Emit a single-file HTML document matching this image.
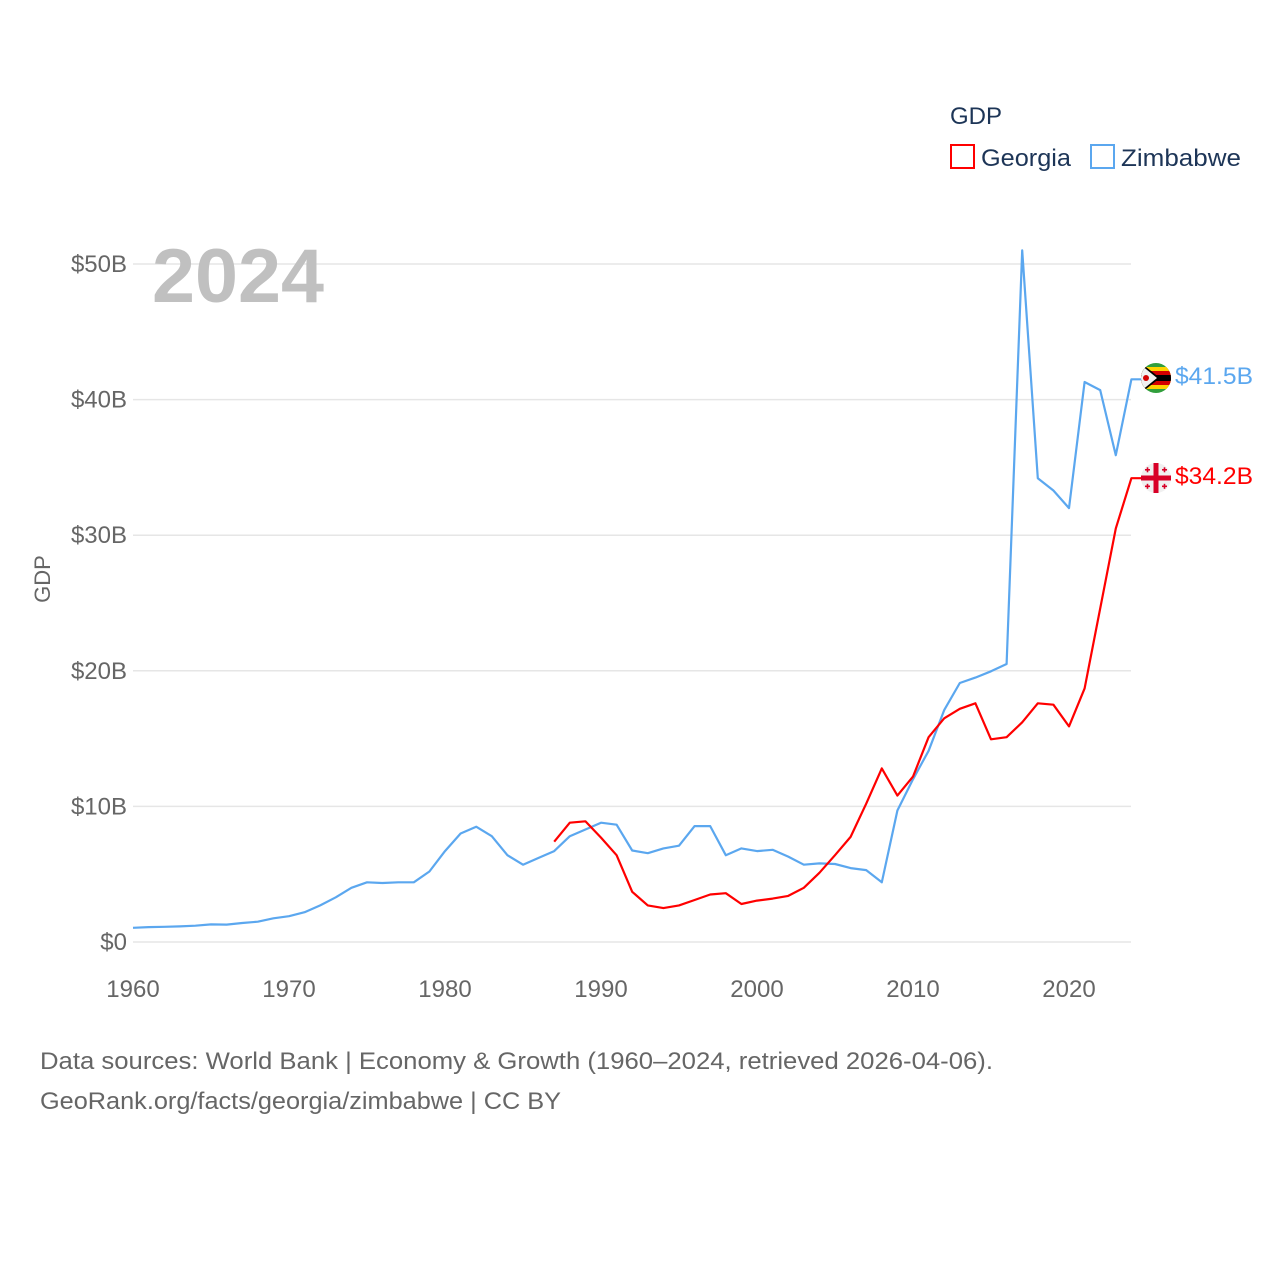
<!DOCTYPE html>
<html><head><meta charset="utf-8"><style>
html,body{margin:0;padding:0;background:#fff;}
svg{display:block;font-family:"Liberation Sans",sans-serif;}
</style></head><body>
<svg id="chart" width="1280" height="1280" viewBox="0 0 1280 1280">
<g id="grid"></g>
<g id="yticks"></g>
<g id="xticks"></g>
<text x="152" y="302" font-size="76" font-weight="bold" fill="#c0c0c0" textLength="172" lengthAdjust="spacingAndGlyphs">2024</text>
<text transform="translate(50,579) rotate(-90)" text-anchor="middle" font-size="22" fill="#666">GDP</text>
<g id="series"></g>
<g>
<text x="950" y="124" font-size="24" fill="#1d3557">GDP</text>
<rect x="951" y="145" width="23" height="23" fill="none" stroke="#ff0000" stroke-width="2"/>
<text x="981" y="166" font-size="24" fill="#1d3557" textLength="90" lengthAdjust="spacingAndGlyphs">Georgia</text>
<rect x="1091" y="145" width="23" height="23" fill="none" stroke="#5ba7ef" stroke-width="2"/>
<text x="1121" y="166" font-size="24" fill="#1d3557" textLength="120" lengthAdjust="spacingAndGlyphs">Zimbabwe</text>
</g>
<g>
<clipPath id="cz"><circle cx="1156" cy="378" r="15"/></clipPath>
<g clip-path="url(#cz)">
<rect x="1141" y="363" width="30" height="30" fill="#319e3c"/>
<rect x="1141" y="367" width="30" height="22" fill="#ffd200"/>
<rect x="1141" y="371" width="30" height="14" fill="#d40000"/>
<rect x="1141" y="375" width="30" height="6" fill="#000"/>
<polygon points="1141,363 1160,378 1141,393" fill="#000"/>
<polygon points="1141,365 1157,378 1141,391" fill="#f0f0f0"/>
<circle cx="1146" cy="378" r="3" fill="#d40000"/>
</g></g>
<g>
<circle cx="1156" cy="478" r="15" fill="#f0f0f0"/>
<rect x="1141" y="475.5" width="30" height="5" fill="#d80027"/>
<rect x="1153.5" y="463" width="5" height="30" fill="#d80027"/>
<g fill="#d80027"><rect x="1145" y="469" width="5" height="1.6"/><rect x="1146.7" y="467.3" width="1.6" height="5"/>
<rect x="1162" y="469" width="5" height="1.6"/><rect x="1163.7" y="467.3" width="1.6" height="5"/>
<rect x="1145" y="485.5" width="5" height="1.6"/><rect x="1146.7" y="483.8" width="1.6" height="5"/>
<rect x="1162" y="485.5" width="5" height="1.6"/><rect x="1163.7" y="483.8" width="1.6" height="5"/></g>
</g>
<text x="1175" y="384" font-size="24" fill="#5ba7ef" textLength="78" lengthAdjust="spacingAndGlyphs">$41.5B</text>
<text x="1175" y="484" font-size="24" fill="#ff0000" textLength="78" lengthAdjust="spacingAndGlyphs">$34.2B</text>
<text x="40" y="1069" font-size="24" fill="#666" textLength="953" lengthAdjust="spacingAndGlyphs">Data sources: World Bank | Economy &amp; Growth (1960–2024, retrieved 2026-04-06).</text>
<text x="40" y="1109" font-size="24" fill="#666" textLength="521" lengthAdjust="spacingAndGlyphs">GeoRank.org/facts/georgia/zimbabwe | CC BY</text>
</svg>
<script>
const years = [];
for (let y = 1960; y <= 2024; y++) years.push(y);
const zimbabwe = [1.05,1.1,1.12,1.15,1.2,1.3,1.28,1.4,1.5,1.75,1.9,2.2,2.7,3.3,4.0,4.4,4.35,4.4,4.4,5.2,6.7,8.0,8.5,7.8,6.4,5.7,6.2,6.7,7.8,8.3,8.8,8.65,6.75,6.55,6.9,7.1,8.55,8.55,6.4,6.9,6.7,6.8,6.3,5.7,5.8,5.75,5.45,5.3,4.4,9.7,12.0,14.1,17.1,19.1,19.5,19.96,20.5,51.0,34.2,33.3,32.0,41.3,40.7,35.9,41.5];
const georgiaStart = 1987;
const georgia = [7.4,8.8,8.9,7.7,6.4,3.7,2.7,2.5,2.7,3.1,3.5,3.6,2.8,3.05,3.2,3.4,4.0,5.1,6.4,7.75,10.2,12.8,10.8,12.2,15.1,16.5,17.2,17.6,14.95,15.1,16.2,17.6,17.5,15.9,18.7,24.6,30.5,34.2];
const yTicks = [0,10,20,30,40,50];
const yTickLabels = ["$0","$10B","$20B","$30B","$40B","$50B"];
const xTicks = [1960,1970,1980,1990,2000,2010,2020];

const NS = "http://www.w3.org/2000/svg";
const X = yr => 133 + (yr - 1960) * 15.6;
const Y = v => 942 - v * 13.56;
function mk(tag, attrs, parent) {
  const e = document.createElementNS(NS, tag);
  for (const k in attrs) e.setAttribute(k, attrs[k]);
  parent.appendChild(e);
  return e;
}
const grid = document.getElementById('grid');
const yt = document.getElementById('yticks');
const xt = document.getElementById('xticks');
yTicks.forEach((v, i) => {
  const l = mk('line', {x1: 133, x2: 1131, y1: Y(v), y2: Y(v), stroke: '#e6e6e6', 'stroke-width': 1.5}, grid);
  
  
  const t = mk('text', {x: 127, y: Y(v) + 8, 'text-anchor': 'end', 'font-size': 24, fill: '#666'}, yt);
  t.textContent = yTickLabels[i];
  
  
});
xTicks.forEach(v => {
  const t = mk('text', {x: X(v), y: 997, 'text-anchor': 'middle', 'font-size': 24, fill: '#666'}, xt);
  t.textContent = v;
  
  
});
const series = document.getElementById('series');
const zp = zimbabwe.map((v, i) => X(years[i]).toFixed(1) + ',' + Y(v).toFixed(1)).join(' ');
const zl = mk('polyline', {points: zp + ' ' + (X(2024) + 10) + ',' + Y(zimbabwe[zimbabwe.length-1]).toFixed(1), fill: 'none', stroke: '#5ba7ef', 'stroke-width': 2.2, 'stroke-linejoin': 'round'}, series);


const gp = georgia.map((v, i) => X(georgiaStart + i).toFixed(1) + ',' + Y(v).toFixed(1)).join(' ');
const gl = mk('polyline', {points: gp + ' ' + (X(2024) + 10) + ',' + Y(georgia[georgia.length-1]).toFixed(1), fill: 'none', stroke: '#ff0000', 'stroke-width': 2.2, 'stroke-linejoin': 'round'}, series);


</script>
</body></html>
